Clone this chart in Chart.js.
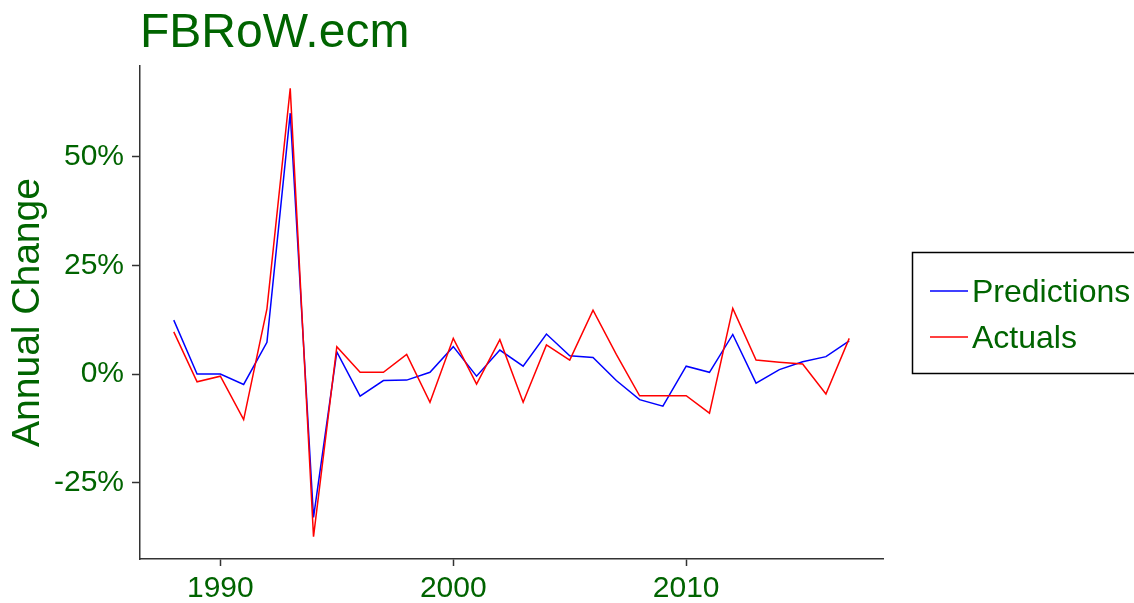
<!DOCTYPE html>
<html>
<head>
<meta charset="utf-8">
<script src="https://cdn.jsdelivr.net/npm/chart.js@4.4.1/dist/chart.umd.min.js"></script>
<style>
    html, body { margin: 0; padding: 0; background: #fff; }
    #wrap { width: 1134px; height: 603px; }
</style>
</head>
<body>
<div id="wrap"><canvas id="chart"></canvas></div>
<script>
const years = [1988, 1989, 1990, 1991, 1992, 1993, 1994, 1995, 1996, 1997,
    1998, 1999, 2000, 2001, 2002, 2003, 2004, 2005, 2006, 2007,
    2008, 2009, 2010, 2011, 2012, 2013, 2014, 2015, 2016, 2017];
const predictions = [12.4, 0, 0, -2.4, 7.3, 60, -33, 5.1, -5.1, -1.5,
    -1.4, 0.4, 6.3, -0.5, 5.5, 1.8, 9.2, 4.2, 3.8, -1.5,
    -5.9, -7.4, 1.8, 0.4, 9.1, -2.1, 1.0, 2.8, 4.0, 7.6];
const actuals = [9.7, -1.8, -0.5, -10.5, 15.0, 65.7, -37.4, 6.3, 0.4, 0.4,
    4.5, -6.5, 8.2, -2.3, 7.9, -6.5, 6.7, 3.2, 14.7, 4.5,
    -5.0, -5.0, -5.0, -9.0, 15.1, 3.2, 2.7, 2.3, -4.6, 8.2];
const xTicks = [1990, 2000, 2010];
const yTicks = [-25, 0, 25, 50];

const GREEN = "#006400";
const FONT = "'Liberation Sans', Arial, sans-serif";
const AXIS = "#333333";

// ggplot style 5% expansion
const expand = (vals) => {
    const lo = Math.min(...vals), hi = Math.max(...vals);
    const pad = (hi - lo) * 0.05;
    return [lo - pad, hi + pad];
};
const [xMin, xMax] = expand(years);
const [yMin, yMax] = expand(predictions.concat(actuals));

const toPoints = (vals) => vals.map((v, i) => ({ x: years[i], y: v }));

const plotTitle = {
    id: "plotTitle",
    afterDraw(chart) {
        const ctx = chart.ctx;
        ctx.save();
        ctx.fillStyle = GREEN;
        ctx.font = "48px " + FONT;
        ctx.textBaseline = "alphabetic";
        ctx.textAlign = "left";
        ctx.fillText("FBRoW.ecm", 140, 47);
        ctx.restore();
    },
};

const legendBox = {
    id: "legendBox",
    afterDraw(chart) {
        const ctx = chart.ctx;
        ctx.save();
        ctx.strokeStyle = "#000";
        ctx.lineWidth = 1.5;
        ctx.strokeRect(912.5, 252.5, 240, 121);
        ctx.font = "32px " + FONT;
        ctx.textBaseline = "middle";
        ctx.textAlign = "left";
        const rows = [291, 337];
        chart.data.datasets.forEach((ds, i) => {
            const y = rows[i];
            ctx.strokeStyle = ds.borderColor;
            ctx.lineWidth = 1.5;
            ctx.beginPath();
            ctx.moveTo(930, y);
            ctx.lineTo(968, y);
            ctx.stroke();
            ctx.fillStyle = GREEN;
            ctx.fillText(ds.label, 972, y + 2);
        });
        ctx.restore();
    },
};

new Chart(document.getElementById("chart"), {
    type: "line",
    data: {
        datasets: [
            {
                label: "Predictions",
                data: toPoints(predictions),
                borderColor: "#0000ff",
                borderWidth: 1.5,
                pointRadius: 0,
                tension: 0,
                order: 2,
            },
            {
                label: "Actuals",
                data: toPoints(actuals),
                borderColor: "#ff0000",
                borderWidth: 1.5,
                pointRadius: 0,
                tension: 0,
                order: 1,
            },
        ],
    },
    options: {
        responsive: true,
        maintainAspectRatio: false,
        animation: false,
        layout: { padding: { top: 66, right: 251, left: 0, bottom: 0 } },
        plugins: {
            legend: { display: false },
            tooltip: { enabled: false },
        },
        scales: {
            x: {
                type: "linear",
                min: xMin,
                max: xMax,
                afterBuildTicks: (scale) => {
                    scale.ticks = xTicks.map((v) => ({ value: v }));
                },
                afterFit: (scale) => {
                    scale.height = 44;
                },
                border: { display: true, color: AXIS, width: 1.5 },
                grid: {
                    drawOnChartArea: false,
                    drawTicks: true,
                    tickLength: 7,
                    color: AXIS,
                    tickColor: AXIS,
                    tickWidth: 1.5,
                },
                ticks: {
                    color: GREEN,
                    font: { family: FONT, size: 30 },
                    padding: 5,
                    maxRotation: 0,
                    callback: (v) => String(v),
                },
            },
            y: {
                type: "linear",
                min: yMin,
                max: yMax,
                afterBuildTicks: (scale) => {
                    scale.ticks = yTicks.map((v) => ({ value: v }));
                },
                afterFit: (scale) => {
                    scale.width = 140;
                },
                border: { display: true, color: AXIS, width: 1.5 },
                grid: {
                    drawOnChartArea: false,
                    drawTicks: true,
                    tickLength: 8,
                    color: AXIS,
                    tickColor: AXIS,
                    tickWidth: 1.5,
                },
                ticks: {
                    color: GREEN,
                    font: { family: FONT, size: 30 },
                    padding: 8,
                    callback: (v) => v + "%",
                },
                title: {
                    display: true,
                    text: "Annual Change",
                    color: GREEN,
                    font: { family: FONT, size: 39 },
                    padding: { top: 5, bottom: 0 },
                },
            },
        },
    },
    plugins: [plotTitle, legendBox],
});
</script>
</body>
</html>
